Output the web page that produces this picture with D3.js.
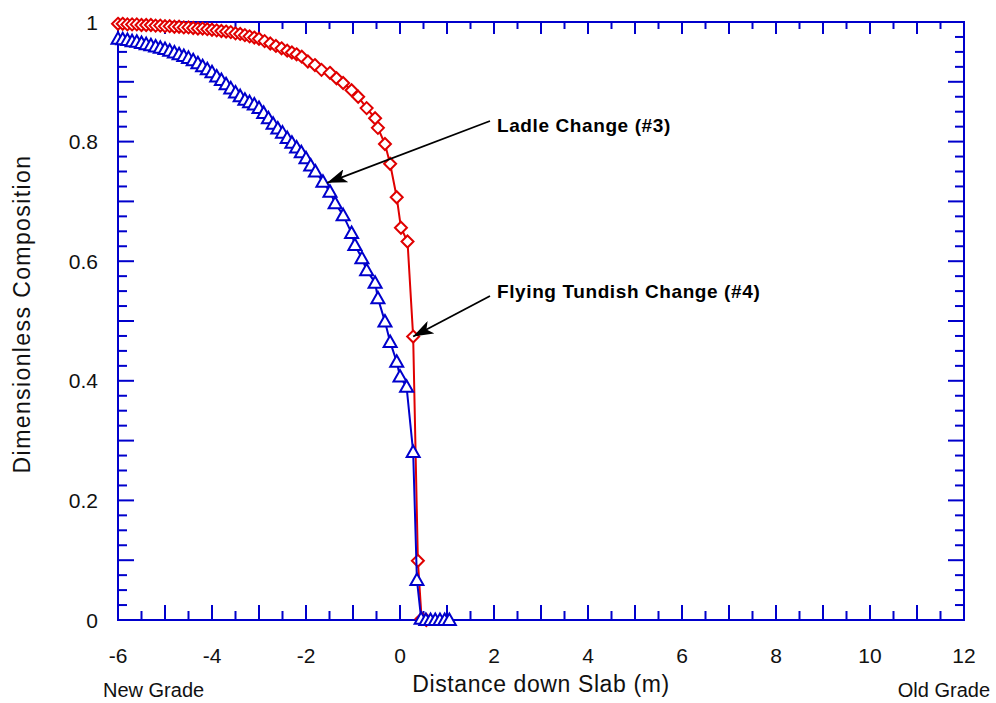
<!DOCTYPE html>
<html><head><meta charset="utf-8">
<script src="https://cdn.jsdelivr.net/npm/d3@7"></script>
<style>body{margin:0;background:#fff}svg{display:block;font-family:"Liberation Sans",Arial,sans-serif}</style>
</head><body>
<svg id="c" width="996" height="703"></svg>
<script>
// Flying Tundish Change (#4) - red diamonds
const redX = [-6.0,-5.9,-5.8,-5.7,-5.6,-5.5,-5.4,-5.3,-5.2,-5.1,-5.0,-4.9,-4.8,-4.7,-4.6,-4.5,-4.4,-4.3,-4.2,-4.1,-4.0,-3.9,-3.8,-3.7,-3.6,-3.5,-3.4,-3.3,-3.2,-3.1,-3.0,-2.88,-2.76,-2.64,-2.52,-2.40,-2.30,-2.20,-2.09,-1.96,-1.81,-1.67,-1.49,-1.35,-1.21,-1.03,-0.89,-0.71,-0.53,-0.47,-0.32,-0.21,-0.07,0.02,0.16,0.28,0.38,0.46,0.56];
const redY = [0.997,0.997,0.996,0.996,0.996,0.995,0.995,0.995,0.994,0.994,0.993,0.993,0.992,0.992,0.991,0.991,0.990,0.989,0.989,0.988,0.987,0.986,0.985,0.984,0.983,0.981,0.980,0.978,0.976,0.974,0.972,0.968,0.964,0.960,0.956,0.952,0.949,0.946,0.942,0.934,0.928,0.920,0.915,0.906,0.898,0.886,0.875,0.856,0.839,0.823,0.796,0.763,0.707,0.656,0.633,0.474,0.099,0.002,0.0];
// Ladle Change (#3) - blue triangles
const blueX = [-6.0,-5.9,-5.8,-5.7,-5.6,-5.5,-5.4,-5.3,-5.2,-5.1,-5.0,-4.9,-4.8,-4.7,-4.6,-4.5,-4.4,-4.3,-4.2,-4.1,-4.0,-3.9,-3.8,-3.7,-3.6,-3.5,-3.4,-3.3,-3.2,-3.1,-3.0,-2.9,-2.8,-2.7,-2.6,-2.5,-2.4,-2.3,-2.2,-2.1,-2.0,-1.9,-1.8,-1.64,-1.49,-1.38,-1.21,-1.03,-0.96,-0.81,-0.71,-0.53,-0.47,-0.32,-0.21,-0.07,0.0,0.14,0.28,0.36,0.45,0.55,0.65,0.75,0.85,0.95,1.05];
const blueY = [0.972,0.971,0.970,0.968,0.967,0.965,0.963,0.961,0.959,0.957,0.955,0.952,0.949,0.946,0.943,0.940,0.936,0.931,0.926,0.921,0.916,0.909,0.903,0.896,0.889,0.882,0.876,0.870,0.866,0.862,0.856,0.848,0.839,0.830,0.822,0.815,0.806,0.798,0.790,0.782,0.772,0.760,0.750,0.733,0.716,0.697,0.677,0.647,0.627,0.605,0.585,0.564,0.538,0.499,0.465,0.432,0.407,0.390,0.281,0.067,0.002,0,0,0,0,0,0];
const xTicks = [-6,-4,-2,0,2,4,6,8,10,12];
const yTicks = [0,0.2,0.4,0.6,0.8,1];
const annotations = [
  {text:"Ladle Change (#3)", tx:-6 + (497-118)/47, ty:(620-126)/598, ax:-1.55, ay:0.731, sx:(490-118)/47-6, sy:(620-121)/598},
  {text:"Flying Tundish Change (#4)", tx:-6 + (497-118)/47, ty:(620-292)/598, ax:0.28, ay:0.474, sx:(490-118)/47-6, sy:(620-296)/598}
];

const svg = d3.select("#c");
const L=118,R=964,T=22,B=620;
const x = d3.scaleLinear().domain([-6,12]).range([L,R]);
const y = d3.scaleLinear().domain([0,1]).range([B,T]);
const AX = "#0000cc", RED="#e00000", BLUE="#0000cc";

const minorX = d3.range(-6,12.001,0.5);
const minorY = d3.range(0,1.0001,0.025);
function isMajX(v){return Math.abs(v-Math.round(v))<1e-6;}
function isMajY(v){return Math.abs(v*10-Math.round(v*10))<1e-6;}

// tick marks (inward, all four sides)
const tk = svg.append("g").attr("stroke",AX).attr("stroke-width",2);
minorX.forEach(v=>{
  const len = isMajX(v)?15:9;
  tk.append("line").attr("x1",x(v)).attr("x2",x(v)).attr("y1",B).attr("y2",B-len);
  const lt = isMajX(v)?12:7;
  tk.append("line").attr("x1",x(v)).attr("x2",x(v)).attr("y1",T).attr("y2",T+lt);
});
minorY.forEach(v=>{
  const len = isMajY(v)?16:9;
  tk.append("line").attr("x1",L).attr("x2",L+len).attr("y1",y(v)).attr("y2",y(v));
  tk.append("line").attr("x1",R).attr("x2",R-len).attr("y1",y(v)).attr("y2",y(v));
});
svg.append("rect").attr("x",L).attr("y",T).attr("width",R-L).attr("height",B-T)
  .attr("fill","none").attr("stroke",AX).attr("stroke-width",2);

// tick labels
svg.append("g").selectAll("text").data(xTicks).join("text")
  .attr("x",d=>x(d)).attr("y",B+43).attr("text-anchor","middle")
  .attr("font-size",21).attr("fill","#111").text(d=>d);
svg.append("g").selectAll("text").data(yTicks).join("text")
  .attr("x",L-20).attr("y",d=>y(d)+7.5).attr("text-anchor","end")
  .attr("font-size",21).attr("fill","#111").text(d=>d);

// titles
svg.append("text").attr("x",541).attr("y",692).attr("text-anchor","middle")
  .attr("font-size",23).attr("letter-spacing",0.6).attr("fill","#111").text("Distance down Slab (m)");
svg.append("text").attr("transform","translate(30,314) rotate(-90)").attr("text-anchor","middle")
  .attr("font-size",23).attr("letter-spacing",1.4).attr("fill","#111").text("Dimensionless Composition");
svg.append("text").attr("x",103).attr("y",697).attr("font-size",20).attr("fill","#111").text("New Grade");
svg.append("text").attr("x",990).attr("y",697).attr("text-anchor","end").attr("font-size",20).attr("fill","#111").text("Old Grade");

// series
const redData = redX.map((v,i)=>[v,redY[i]]);
const blueData = blueX.map((v,i)=>[v,blueY[i]]);
const line = d3.line().x(d=>x(d[0])).y(d=>y(d[1]));
function series(data,color,shape){
  svg.append("path").datum(data).attr("d",line).attr("fill","none").attr("stroke",color).attr("stroke-width",2);
  svg.append("g").selectAll("path").data(data).join("path")
    .attr("transform",d=>`translate(${x(d[0])},${y(d[1])})`)
    .attr("d",shape).attr("fill","#fff").attr("stroke",color).attr("stroke-width",2);
}
series(redData,RED,"M0,-6L6,0L0,6L-6,0Z");
series(blueData,BLUE,"M0,-6.5L6.5,5L-6.5,5Z");

// annotations
const defs = svg.append("defs");
defs.append("marker").attr("id","ah").attr("viewBox","0 0 20 14").attr("refX",20).attr("refY",7)
  .attr("markerWidth",20).attr("markerHeight",14).attr("markerUnits","userSpaceOnUse").attr("orient","auto")
  .append("path").attr("d","M0,0L20,7L0,14L5,7Z").attr("fill","#000");
annotations.forEach(a=>{
  svg.append("line").attr("x1",x(a.sx)).attr("y1",y(a.sy)).attr("x2",x(a.ax)).attr("y2",y(a.ay))
    .attr("stroke","#000").attr("stroke-width",1.8).attr("marker-end","url(#ah)");
  svg.append("text").attr("x",x(a.tx)).attr("y",y(a.ty)+6).attr("font-size",19).attr("letter-spacing",0.6).attr("font-weight","bold")
    .attr("fill","#000").text(a.text);
});
</script>
</body></html>
